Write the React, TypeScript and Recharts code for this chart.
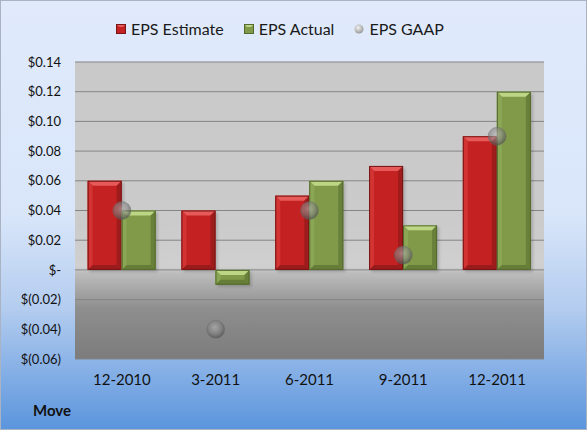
import {
  ComposedChart,
  Bar,
  Scatter,
  XAxis,
  YAxis,
  CartesianGrid,
} from "recharts";

const categories = ["12-2010", "3-2011", "6-2011", "9-2011", "12-2011"];
const epsEstimate = [0.06, 0.04, 0.05, 0.07, 0.09];
const epsActual = [0.04, -0.01, 0.06, 0.03, 0.12];
const epsGaap = [0.04, -0.04, 0.04, 0.01, 0.09];
const yTicks = [-0.06, -0.04, -0.02, 0, 0.02, 0.04, 0.06, 0.08, 0.1, 0.12, 0.14];

const chartData = categories.map((name, i) => ({
  name,
  estimate: epsEstimate[i],
  actual: epsActual[i],
  gaap: epsGaap[i],
}));

const FONT = "Lato, 'Open Sans', sans-serif";

// chart box
const W = 587;
const H = 430;
const MARGIN = { top: 62, right: 43, bottom: 31, left: 0 };
const Y_AXIS_W = 75;
const X_AXIS_H = 40;

const RED = { base: "#c42222", light: "#e65a5a", side: "#d23333", dark: "#8e1a1a", edge: "#7a1515" };
const GREEN = { base: "#809a49", light: "#bcd685", side: "#8ba655", dark: "#5f7535", edge: "#556a2e" };

// $0.14, $-, $(0.02)
function formatTick(v: number) {
  if (Math.abs(v) < 1e-9) return "$-";
  if (v < 0) return `$(${Math.abs(v).toFixed(2)})`;
  return `$${v.toFixed(2)}`;
}

function BevelBar(props: any) {
  const { x, y, width, height, palette } = props;
  if (!width || !height) return null;
  const t = Math.min(y, y + height);
  const h = Math.abs(height);
  const w = width;
  const b = Math.min(5, h / 2, w / 2);
  const pts = (arr: number[][]) => arr.map((p) => p.join(",")).join(" ");
  return (
    <g>
      <rect x={x + 2} y={t + 2} width={w} height={h} fill="#000" opacity={0.18} filter="url(#barShadow)" />
      <rect x={x} y={t} width={w} height={h} fill={palette.base} />
      <polygon points={pts([[x, t], [x + w, t], [x + w - b, t + b], [x + b, t + b]])} fill={palette.light} />
      <polygon points={pts([[x, t], [x + b, t + b], [x + b, t + h - b], [x, t + h]])} fill={palette.side} />
      <polygon points={pts([[x + w, t], [x + w, t + h], [x + w - b, t + h - b], [x + w - b, t + b]])} fill={palette.dark} opacity={0.7} />
      <polygon points={pts([[x, t + h], [x + w, t + h], [x + w - b, t + h - b], [x + b, t + h - b]])} fill={palette.dark} opacity={0.8} />
      <rect x={x + 0.5} y={t + 0.5} width={w - 1} height={h - 1} fill="none" stroke={palette.edge} strokeWidth={1} />
    </g>
  );
}

function Sphere(props: any) {
  const { cx, cy } = props;
  if (cx == null || cy == null) return null;
  return (
    <g>
      <circle cx={cx} cy={cy} r={9} fill="url(#sphereFill)" />
      <circle cx={cx} cy={cy} r={9} fill="none" stroke="#6a6a6a" strokeOpacity={0.35} />
    </g>
  );
}

function LegendItem({ kind, label }: { kind: "red" | "green" | "ball"; label: string }) {
  const icon =
    kind === "ball" ? (
      <svg width={10} height={10}>
        <circle cx={5} cy={5} r={4.5} fill="url(#legendBall)" />
      </svg>
    ) : (
      <svg width={10} height={10}>
        <rect x={0} y={0} width={10} height={10} fill={kind === "red" ? RED.base : GREEN.base} />
        <polygon points="0,0 10,0 7,3 3,3" fill={kind === "red" ? RED.light : GREEN.light} />
        <rect x={0.5} y={0.5} width={9} height={9} fill="none" stroke={kind === "red" ? RED.edge : GREEN.edge} />
      </svg>
    );
  return (
    <div style={{ display: "flex", alignItems: "center", gap: 5 }}>
      {icon}
      <span>{label}</span>
    </div>
  );
}

export default function App() {
  const plotW = W - MARGIN.left - MARGIN.right - Y_AXIS_W;
  const plotH = H - MARGIN.top - MARGIN.bottom - X_AXIS_H;
  return (
    <div
      style={{
        position: "absolute",
        left: 0,
        top: 0,
        width: W,
        height: H,
        boxSizing: "border-box",
        border: "1px solid #aab3c4",
        background: "linear-gradient(to bottom, #e0eafb 0%, #d9e6fa 50%, #b3ccef 72%, #5b95dd 100%)",
        fontFamily: FONT,
        overflow: "hidden",
      }}
    >
      {/* shared gradients */}
      <svg width={0} height={0} style={{ position: "absolute" }}>
        <defs>
          <linearGradient id="plotBg" x1="0" y1="0" x2="0" y2="1">
            <stop offset="0%" stopColor="#c9c9c9" />
            <stop offset="55%" stopColor="#cbcbcb" />
            <stop offset="69%" stopColor="#d0d0d0" />
            <stop offset="71%" stopColor="#bdbdbd" />
            <stop offset="83%" stopColor="#8e8e8e" />
            <stop offset="100%" stopColor="#7c7c7c" />
          </linearGradient>
          <radialGradient id="sphereFill" cx="45%" cy="40%" r="60%">
            <stop offset="0%" stopColor="#b8b8b8" stopOpacity={0.6} />
            <stop offset="60%" stopColor="#808080" stopOpacity={0.6} />
            <stop offset="100%" stopColor="#4c4c4c" stopOpacity={0.7} />
          </radialGradient>
          <radialGradient id="legendBall" cx="40%" cy="35%" r="65%">
            <stop offset="0%" stopColor="#f2f2f2" />
            <stop offset="100%" stopColor="#9a9a9a" />
          </radialGradient>
          <filter id="barShadow" x="-20%" y="-20%" width="140%" height="140%">
            <feGaussianBlur stdDeviation="1.5" />
          </filter>
        </defs>
      </svg>

      {/* legend */}
      <div
        style={{
          position: "absolute",
          left: 115,
          top: 17,
          display: "flex",
          gap: 20,
          fontSize: 16,
          color: "#1a1a1a",
          lineHeight: "22px",
        }}
      >
        <LegendItem kind="red" label="EPS Estimate" />
        <LegendItem kind="green" label="EPS Actual" />
        <LegendItem kind="ball" label="EPS GAAP" />
      </div>

      <div style={{ position: "absolute", left: -1, top: -1 }}>
        <ComposedChart
          width={W}
          height={H}
          data={chartData}
          margin={MARGIN}
          barCategoryGap="13.5%"
          barGap={0}
        >
          <CartesianGrid
            vertical={false}
            stroke="#858585"
            fill="url(#plotBg)"
            fillOpacity={1}
            x={MARGIN.left + Y_AXIS_W}
            y={MARGIN.top}
            width={plotW}
            height={plotH}
          />
          <XAxis
            dataKey="name"
            height={X_AXIS_H}
            axisLine={false}
            tickLine={false}
            tickSize={0}
            tickMargin={15}
            interval={0}
            tick={{ fontSize: 15, fill: "#111", fontFamily: FONT }}
          />
          <YAxis
            domain={[-0.06, 0.14]}
            ticks={yTicks}
            interval={0}
            width={Y_AXIS_W}
            axisLine={false}
            tickLine={false}
            tickSize={0}
            tickMargin={14}
            tickFormatter={formatTick}
            tick={{ fontSize: 13, fill: "#111", fontFamily: FONT }}
          />
          <Bar dataKey="estimate" isAnimationActive={false} shape={(p: any) => <BevelBar {...p} palette={RED} />} />
          <Bar dataKey="actual" isAnimationActive={false} shape={(p: any) => <BevelBar {...p} palette={GREEN} />} />
          <Scatter dataKey="gaap" isAnimationActive={false} shape={(p: any) => <Sphere {...p} />} />
        </ComposedChart>
      </div>

      <div style={{ position: "absolute", left: 32, top: 400, fontSize: 15, fontWeight: 700, color: "#111" }}>
        Move
      </div>
    </div>
  );
}
